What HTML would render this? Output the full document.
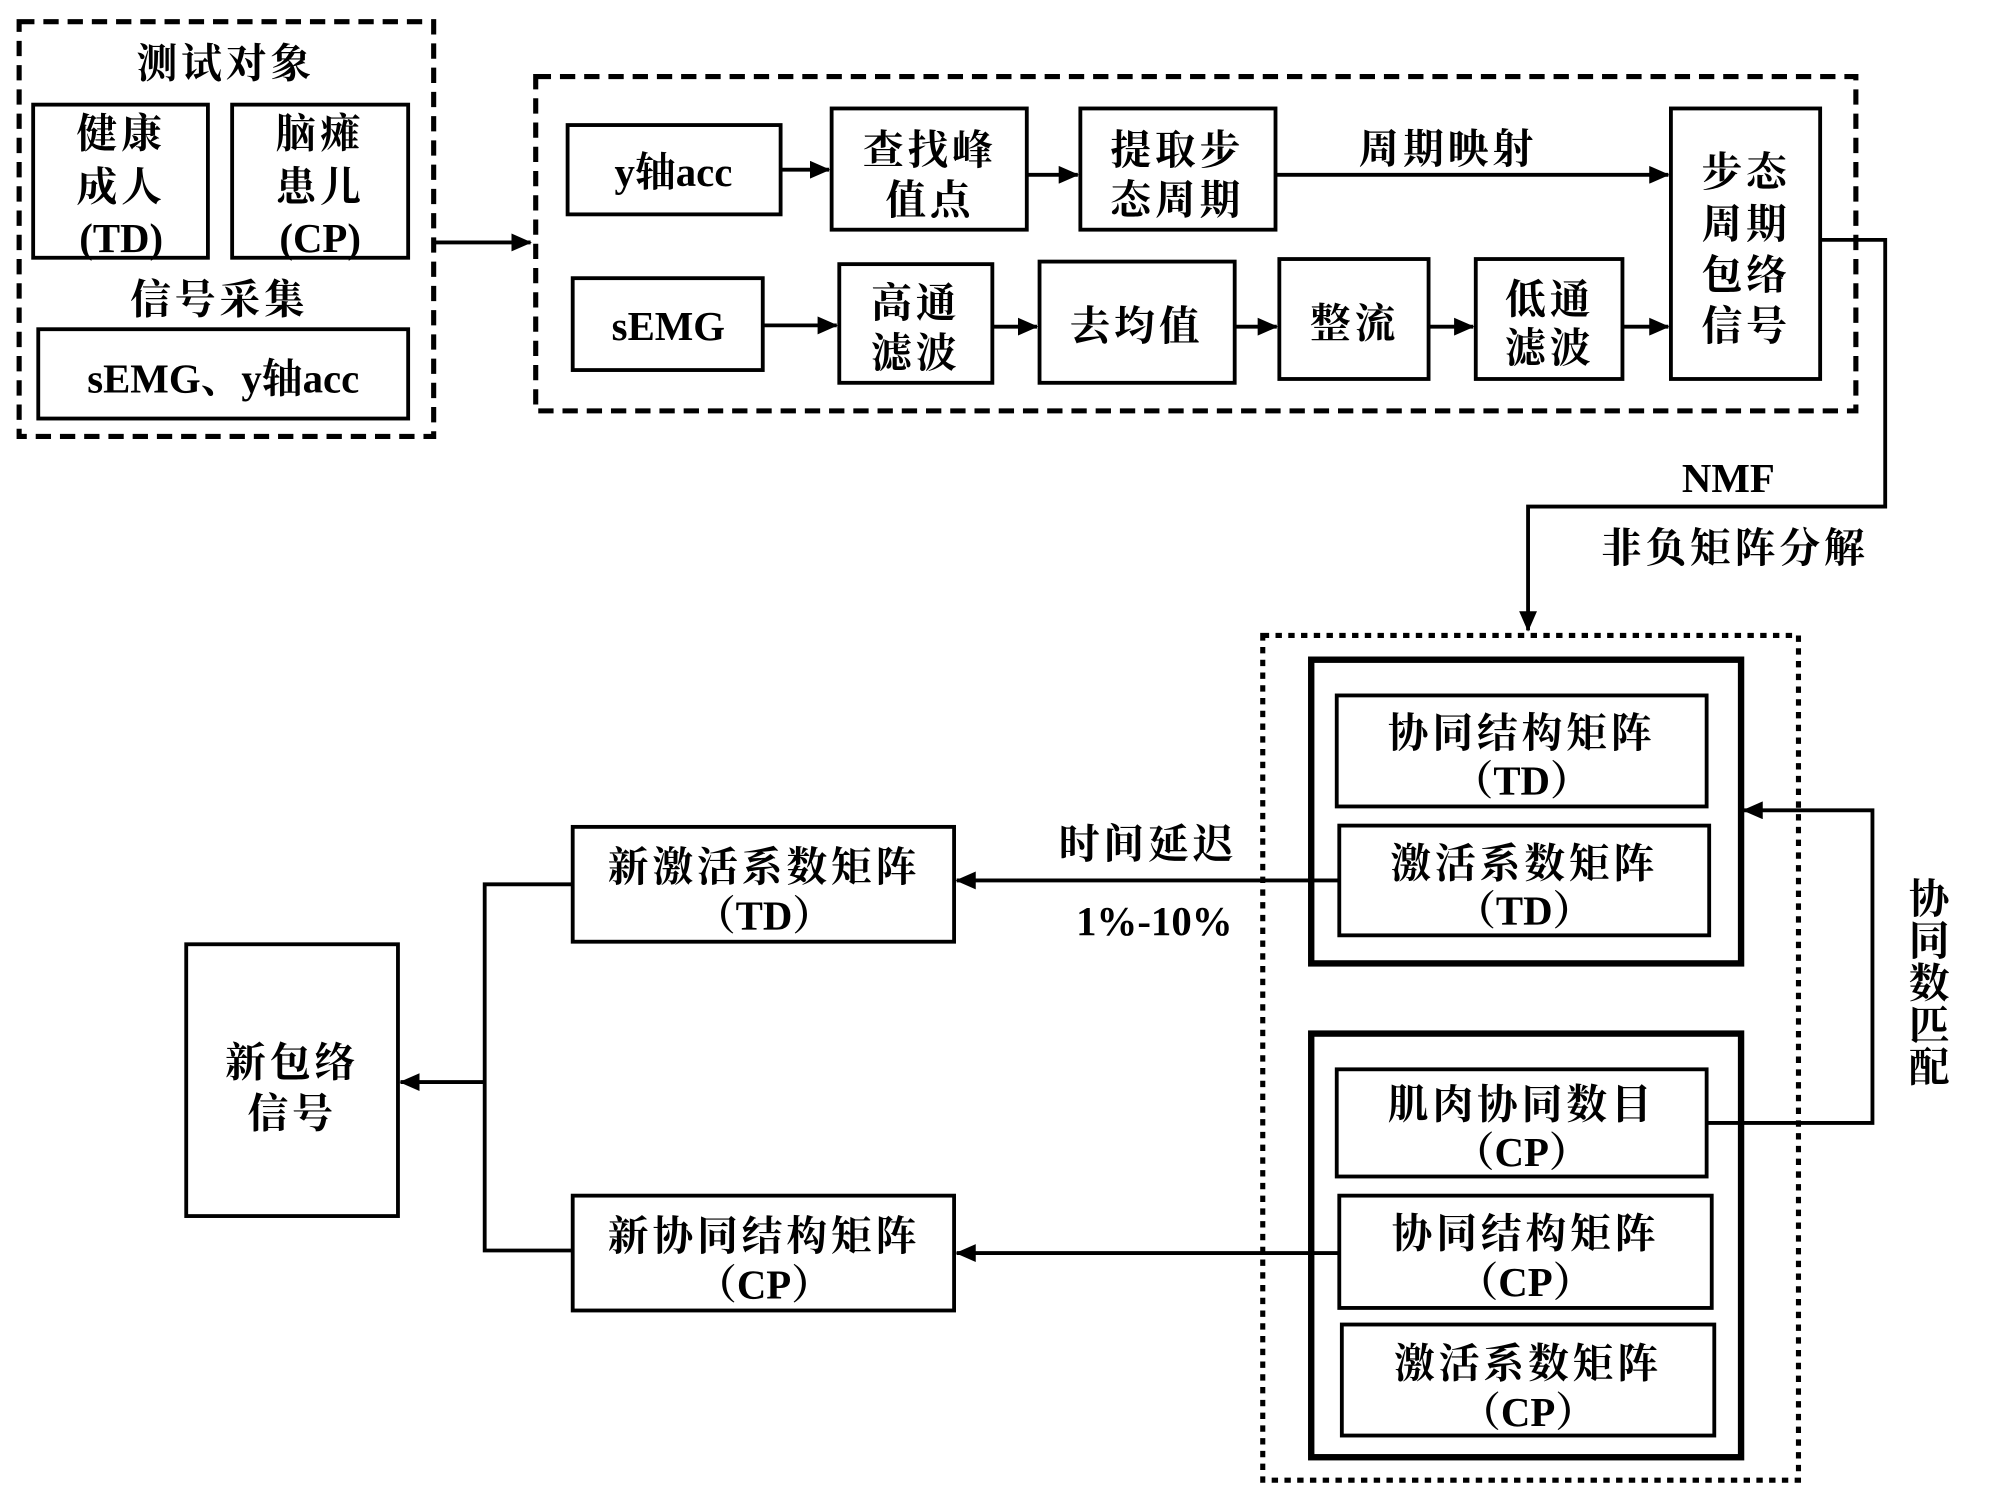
<!DOCTYPE html>
<html><head><meta charset="utf-8"><style>
html,body{margin:0;padding:0;background:#fff;}
svg{display:block}
text{font-family:"Liberation Serif","Noto Serif CJK SC",serif;font-weight:bold;fill:#000;text-anchor:middle;dominant-baseline:central;font-size:32px;letter-spacing:3px}
text.l{letter-spacing:0}
</style></head><body>
<svg width="2000" height="1507" viewBox="0 0 1568 1181" preserveAspectRatio="none" xmlns="http://www.w3.org/2000/svg">
<defs>
<marker id="b" markerWidth="16" markerHeight="14" refX="15" refY="7" orient="auto" markerUnits="userSpaceOnUse"><path d="M0,0 L16,7 L0,14 z" fill="#000"/></marker></defs>
<g fill="none" stroke="#000">
<rect x="15" y="17" width="325" height="325" stroke-width="4" stroke-dasharray="12,7"/>
<rect x="420" y="60" width="1035" height="262" stroke-width="4" stroke-dasharray="12,7"/>
<rect x="990" y="498" width="420" height="662" stroke-width="4" stroke-dasharray="5,5"/>
<g stroke-width="3">
<rect x="26" y="82" width="137" height="120"/><rect x="182" y="82" width="138" height="120"/>
<rect x="30" y="258" width="290" height="70"/>
<rect x="445" y="98" width="167" height="70"/><rect x="652" y="85" width="153" height="95"/>
<rect x="847" y="85" width="153" height="95"/><rect x="1310" y="85" width="117" height="212"/>
<rect x="449" y="218" width="149" height="72"/><rect x="658" y="207" width="120" height="93"/>
<rect x="815" y="205" width="153" height="95"/><rect x="1003" y="203" width="117" height="94"/>
<rect x="1157" y="203" width="115" height="94"/>
<rect x="1048" y="545" width="290" height="87"/><rect x="1050" y="647" width="290" height="86"/>
<rect x="1048" y="838" width="290" height="84"/><rect x="1050" y="937" width="292" height="88"/>
<rect x="1052" y="1038" width="292" height="87"/>
<rect x="449" y="648" width="299" height="90"/><rect x="449" y="937" width="299" height="90"/>
<rect x="146" y="740" width="166" height="213"/>
</g>
<rect x="1028" y="517" width="337" height="238" stroke-width="5"/>
<rect x="1028" y="810" width="337" height="332" stroke-width="5"/>
<g stroke-width="3">
<path d="M340,190 H416" marker-end="url(#b)"/>
<path d="M612,133 H650" marker-end="url(#b)"/>
<path d="M805,137 H845" marker-end="url(#b)"/>
<path d="M1000,137 H1308" marker-end="url(#b)"/>
<path d="M598,255 H656" marker-end="url(#b)"/>
<path d="M778,256 H813" marker-end="url(#b)"/>
<path d="M968,256 H1001" marker-end="url(#b)"/>
<path d="M1120,256 H1155" marker-end="url(#b)"/>
<path d="M1272,256 H1308" marker-end="url(#b)"/>
<path d="M1427,188 H1478 V397 H1198 V494" marker-end="url(#b)"/>
<path d="M1338,880 H1468 V635 H1367" marker-end="url(#b)"/>
<path d="M1050,690 H750" marker-end="url(#b)"/>
<path d="M1050,982 H750" marker-end="url(#b)"/>
<path d="M449,693 H380 V980 H449"/>
<path d="M380,848 H314" marker-end="url(#b)"/>
</g></g>
<text x="177" y="50">测试对象</text>
<text x="95" y="105">健康</text><text x="95" y="147">成人</text><text class="l" x="95" y="187">(TD)</text>
<text x="251" y="105">脑瘫</text><text x="251" y="147">患儿</text><text class="l" x="251" y="187">(CP)</text>
<text x="172" y="235">信号采集</text>
<text class="l" x="175" y="297">sEMG、y轴acc</text>
<text class="l" x="528" y="135">y轴acc</text>
<text x="729" y="118">查找峰</text><text x="729" y="157">值点</text>
<text x="923" y="118">提取步</text><text x="923" y="157">态周期</text>
<text x="1135" y="117">周期映射</text>
<text x="1369" y="135">步态</text><text x="1369" y="176">周期</text><text x="1369" y="216">包络</text><text x="1369" y="256">信号</text>
<text class="l" x="524" y="256">sEMG</text>
<text x="718" y="238">高通</text><text x="718" y="277">滤波</text>
<text x="891" y="256">去均值</text>
<text x="1062" y="254">整流</text>
<text x="1215" y="235">低通</text><text x="1215" y="273">滤波</text>
<text class="l" x="1355" y="375">NMF</text>
<text x="1360" y="430">非负矩阵分解</text>
<text x="1193" y="575">协同结构矩阵</text><text class="l" x="1193" y="612">（TD）</text>
<text x="1195" y="677">激活系数矩阵</text><text class="l" x="1195" y="714">（TD）</text>
<text x="1193" y="866">肌肉协同数目</text><text class="l" x="1193" y="903">（CP）</text>
<text x="1196" y="967">协同结构矩阵</text><text class="l" x="1196" y="1005">（CP）</text>
<text x="1198" y="1069">激活系数矩阵</text><text class="l" x="1198" y="1107">（CP）</text>
<text x="1514" y="705">协</text><text x="1514" y="738">同</text><text x="1514" y="771">数</text><text x="1514" y="804">匹</text><text x="1514" y="837">配</text>
<text x="900" y="662">时间延迟</text>
<text class="l" x="905" y="722">1%-10%</text>
<text x="599" y="680">新激活系数矩阵</text><text class="l" x="599" y="718">（TD）</text>
<text x="599" y="969">新协同结构矩阵</text><text class="l" x="599" y="1007">（CP）</text>
<text x="229" y="833">新包络</text><text x="229" y="873">信号</text>
</svg>
</body></html>
